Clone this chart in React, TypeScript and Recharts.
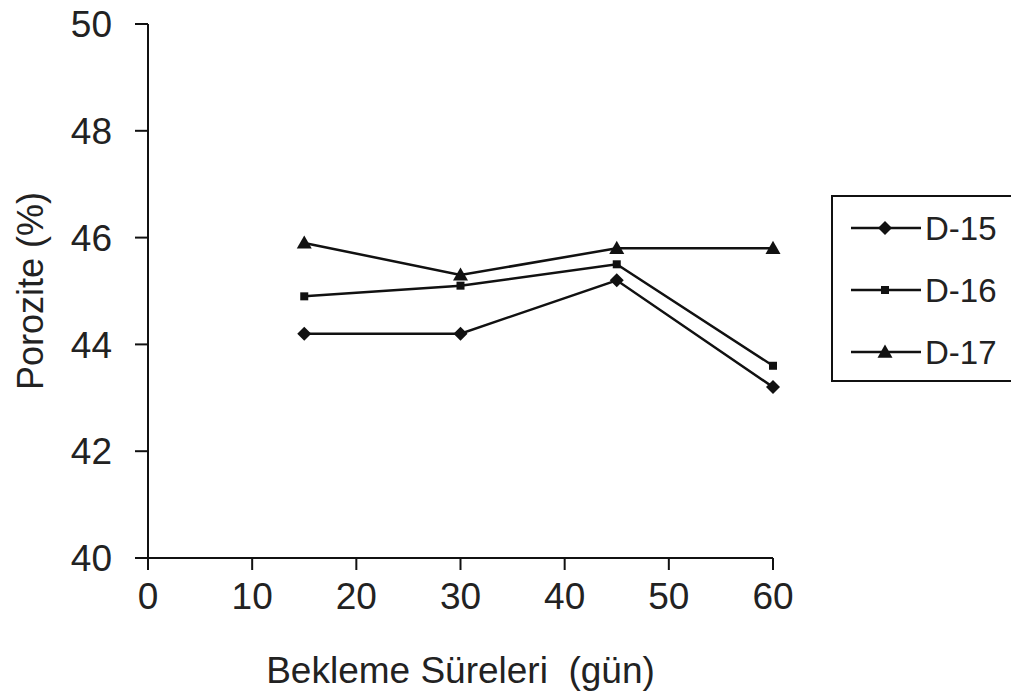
import React from 'react';
import { LineChart, Line, XAxis, YAxis, Legend, Label } from 'recharts';

const days = [15, 30, 45, 60];
const d15 = [44.2, 44.2, 45.2, 43.2];
const d16 = [44.9, 45.1, 45.5, 43.6];
const d17 = [45.9, 45.3, 45.8, 45.8];
const seriesNames = ['D-15', 'D-16', 'D-17'];
const seriesShapes = ['diamond', 'square', 'triangle'];
const xTicks = [0, 10, 20, 30, 40, 50, 60];
const yTicks = [40, 42, 44, 46, 48, 50];
const xTitle = 'Bekleme Süreleri  (gün)';
const yTitle = 'Porozite (%)';

const data = days.map((d, i) => ({ day: d, 'D-15': d15[i], 'D-16': d16[i], 'D-17': d17[i] }));

const FONT = '"Liberation Sans", Arial, sans-serif';
const INK = '#111';

function MarkerShape({ shape, cx, cy }: { shape: string; cx: number; cy: number }) {
  if (cx == null || cy == null || isNaN(cx) || isNaN(cy)) return null;
  if (shape === 'diamond') {
    const r = 7;
    return <polygon points={`${cx},${cy - r} ${cx + r},${cy} ${cx},${cy + r} ${cx - r},${cy}`} fill={INK} />;
  }
  if (shape === 'square') {
    const r = 4;
    return <rect x={cx - r} y={cy - r} width={2 * r} height={2 * r} fill={INK} />;
  }
  const s = 7.5;
  return <polygon points={`${cx},${cy - s} ${cx + s},${cy + s * 0.75} ${cx - s},${cy + s * 0.75}`} fill={INK} />;
}

const makeDot = (shape: string) => (props: any) => (
  <MarkerShape key={`${shape}-${props.index}`} shape={shape} cx={props.cx} cy={props.cy} />
);

function LegendBox(props: any) {
  const payload = props.payload || [];
  return (
    <div
      style={{
        width: 200,
        height: 187,
        border: `2px solid ${INK}`,
        boxSizing: 'border-box',
        background: '#fff',
        paddingTop: 0,
      }}
    >
      {payload.map((item: any) => {
        const idx = seriesNames.indexOf(item.value);
        return (
          <div key={item.value} style={{ display: 'flex', alignItems: 'center', height: 62 }}>
            <svg width={92} height={30} style={{ display: 'block' }}>
              <line x1={18} y1={15} x2={88} y2={15} stroke={INK} strokeWidth={2.5} />
              <MarkerShape shape={seriesShapes[idx]} cx={52} cy={15} />
            </svg>
            <span style={{ fontFamily: FONT, fontSize: 33, color: '#222', lineHeight: 1 }}>{item.value}</span>
          </div>
        );
      })}
    </div>
  );
}

export default function App() {
  return (
    <div style={{ position: 'absolute', left: 0, top: 0, width: 1011, height: 696, background: '#fff', overflow: 'hidden' }}>
      <LineChart width={1011} height={696} data={data} margin={{ top: 24, right: 38, bottom: 0, left: 0 }}>
        <XAxis
          dataKey="day"
          type="number"
          domain={[0, 60]}
          ticks={xTicks}
          interval={0}
          height={138}
          tickSize={12}
          tickMargin={13}
          stroke={INK}
          strokeWidth={2}
          tick={{ fontFamily: FONT, fontSize: 37, fill: '#222' }}
        >
          <Label
            content={(p: any) => {
              const vb = p.viewBox;
              return (
                <text
                  x={vb.x + vb.width / 2}
                  y={683}
                  textAnchor="middle"
                  fontFamily={FONT}
                  fontSize={37}
                  fill="#222"
                  style={{ whiteSpace: 'pre' }}
                >
                  {xTitle}
                </text>
              );
            }}
          />
        </XAxis>
        <YAxis
          type="number"
          domain={[40, 50]}
          ticks={yTicks}
          interval={0}
          width={148}
          tickSize={13}
          tickMargin={23}
          stroke={INK}
          strokeWidth={2}
          tick={{ fontFamily: FONT, fontSize: 37, fill: '#222' }}
        >
          <Label
            content={(p: any) => {
              const vb = p.viewBox;
              const cx = 30;
              const cy = vb.y + vb.height / 2;
              return (
                <text
                  x={cx}
                  y={cy}
                  textAnchor="middle"
                  dominantBaseline="central"
                  transform={`rotate(-90, ${cx}, ${cy})`}
                  fontFamily={FONT}
                  fontSize={36}
                  fill="#222"
                >
                  {yTitle}
                </text>
              );
            }}
          />
        </YAxis>
        <Legend
          layout="vertical"
          align="right"
          verticalAlign="middle"
          content={<LegendBox />}
          wrapperStyle={{ position: 'absolute', left: 831, top: 195, width: 200, height: 187 }}
        />
        {seriesNames.map((name, i) => (
          <Line
            key={name}
            dataKey={name}
            name={name}
            stroke={INK}
            strokeWidth={2.5}
            dot={makeDot(seriesShapes[i])}
            activeDot={false}
            isAnimationActive={false}
            type="linear"
          />
        ))}
      </LineChart>
    </div>
  );
}
